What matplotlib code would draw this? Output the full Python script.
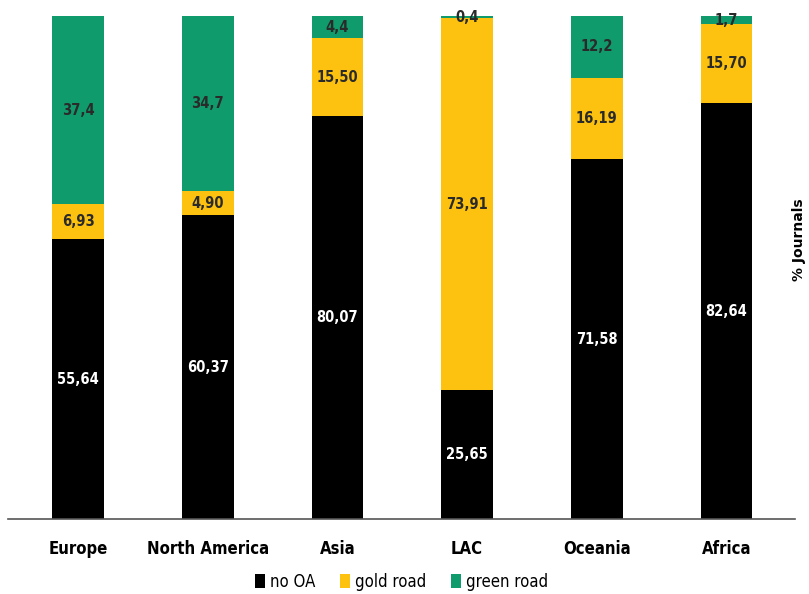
import numpy as np
import matplotlib.pyplot as plt
from matplotlib import rcParams

rcParams['font.family'] = ['DejaVu Sans']
rcParams['font.stretch'] = 'condensed'

regions = ['Europe', 'North America', 'Asia', 'LAC', 'Oceania', 'Africa']
no_oa = [55.64, 60.37, 80.07, 25.65, 71.58, 82.64]
gold = [6.93, 4.90, 15.50, 73.91, 16.19, 15.70]
green = [37.4, 34.7, 4.4, 0.4, 12.2, 1.7]
no_oa_lbl = ['55,64', '60,37', '80,07', '25,65', '71,58', '82,64']
gold_lbl = ['6,93', '4,90', '15,50', '73,91', '16,19', '15,70']
green_lbl = ['37,4', '34,7', '4,4', '0,4', '12,2', '1,7']

c_black = '#000000'
c_gold = '#fdc20f'
c_green = '#0f9b6b'

fig = plt.figure(figsize=(8.09, 5.94), dpi=100)
ax = fig.add_axes([0.01, 0.126, 0.973, 0.847])

x = np.arange(len(regions))
w = 0.4
no_oa = np.array(no_oa)
gold = np.array(gold)
green = np.array(green)

ax.bar(x, no_oa, w, color=c_black, label='no OA')
ax.bar(x, gold, w, bottom=no_oa, color=c_gold, label='gold road')
ax.bar(x, green, w, bottom=no_oa + gold, color=c_green, label='green road')

# Segment labels
for i in range(len(regions)):
    ax.text(x[i], no_oa[i] / 2, no_oa_lbl[i], ha='center', va='center',
            color='white', fontsize=10.5, fontweight='bold')
    ax.text(x[i], no_oa[i] + gold[i] / 2, gold_lbl[i], ha='center', va='center',
            color='#2a2a2a', fontsize=10.5, fontweight='semibold')
    ax.text(x[i], no_oa[i] + gold[i] + green[i] / 2, green_lbl[i], ha='center',
            va='center', color='#2a2a2a', fontsize=10.5, fontweight='semibold')

ax.set_xlim(-0.54, 5.53)
ax.set_ylim(0, 100)
ax.set_xticks(x)
ax.set_xticklabels(regions, fontsize=12, fontweight='bold')
ax.tick_params(axis='x', length=0, pad=15)
ax.set_yticks([])
for s in ['top', 'right', 'left']:
    ax.spines[s].set_visible(False)
ax.spines['bottom'].set_color('#555555')
ax.spines['bottom'].set_linewidth(1.2)

fig.text(0.988, 0.596, '% Journals', rotation=90, ha='center', va='center',
         fontsize=10, fontweight='bold', fontstretch='normal')

ax.legend(loc='center', bbox_to_anchor=(0.5, -0.125), ncol=3, frameon=False,
          handlelength=0.6, handleheight=0.9, handletextpad=0.3,
          columnspacing=1.5, prop={'size': 12})

fig.savefig('out.png', dpi=100)
